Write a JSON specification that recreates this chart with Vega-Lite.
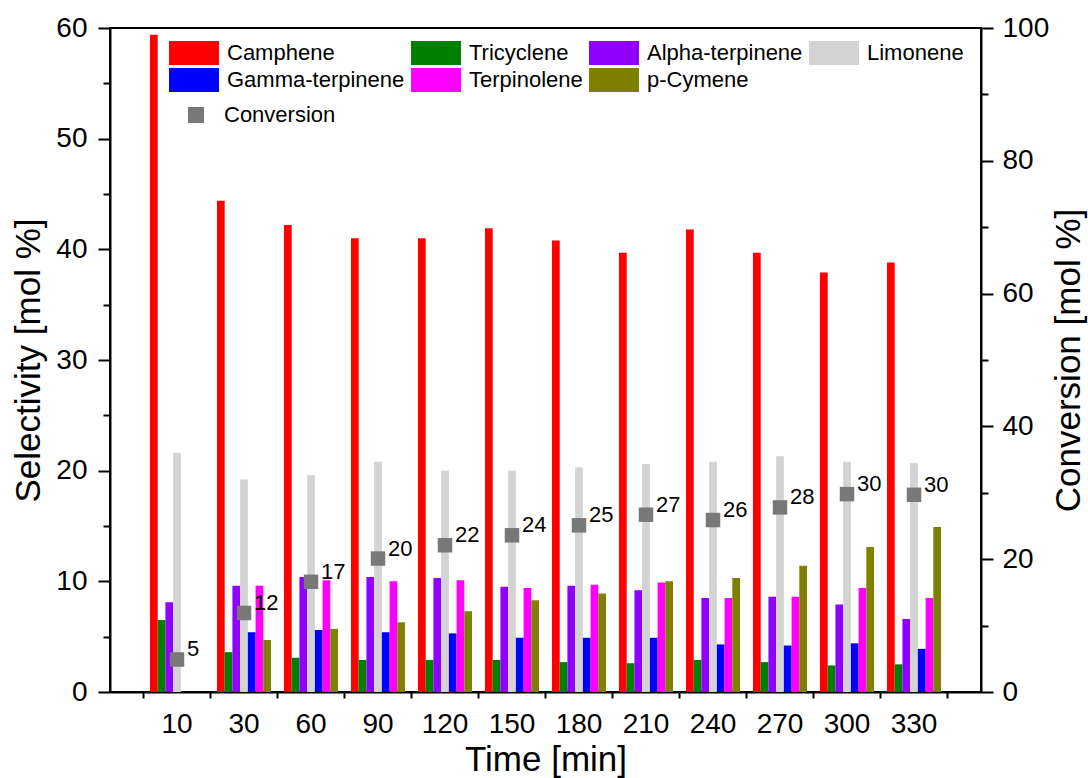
{
  "$schema": "https://vega.github.io/schema/vega-lite/v6.json",
  "autosize": "none",
  "width": 871,
  "height": 664,
  "padding": {"left": 110, "top": 28, "right": 107, "bottom": 86},
  "background": "white",
  "config": {
    "view": {"stroke": "black", "strokeWidth": 2},
    "font": "Liberation Sans",
    "axis": {
      "grid": false,
      "domainColor": "black",
      "domainWidth": 2,
      "tickColor": "black",
      "tickWidth": 2,
      "labelColor": "black",
      "titleColor": "black",
      "labelFont": "Liberation Sans",
      "titleFont": "Liberation Sans",
      "labelFontSize": 28,
      "titleFontSize": 35,
      "titleFontWeight": "normal"
    },
    "legend": {
      "labelFont": "Liberation Sans",
      "labelFontSize": 22,
      "labelColor": "black",
      "labelLimit": 400,
      "padding": 0
    }
  },
  "datasets": {
    "sel": [
      {"time": "10", "compound": "Camphene", "value": 59.4},
      {"time": "10", "compound": "Tricyclene", "value": 6.5},
      {"time": "10", "compound": "Alpha-terpinene", "value": 8.1},
      {"time": "10", "compound": "Limonene", "value": 21.6},
      {"time": "10", "compound": "Gamma-terpinene", "value": 0},
      {"time": "10", "compound": "Terpinolene", "value": 0},
      {"time": "10", "compound": "p-Cymene", "value": 0},
      {"time": "30", "compound": "Camphene", "value": 44.4},
      {"time": "30", "compound": "Tricyclene", "value": 3.6},
      {"time": "30", "compound": "Alpha-terpinene", "value": 9.6},
      {"time": "30", "compound": "Limonene", "value": 19.2},
      {"time": "30", "compound": "Gamma-terpinene", "value": 5.4},
      {"time": "30", "compound": "Terpinolene", "value": 9.6},
      {"time": "30", "compound": "p-Cymene", "value": 4.7},
      {"time": "60", "compound": "Camphene", "value": 42.2},
      {"time": "60", "compound": "Tricyclene", "value": 3.1},
      {"time": "60", "compound": "Alpha-terpinene", "value": 10.4},
      {"time": "60", "compound": "Limonene", "value": 19.6},
      {"time": "60", "compound": "Gamma-terpinene", "value": 5.6},
      {"time": "60", "compound": "Terpinolene", "value": 10.1},
      {"time": "60", "compound": "p-Cymene", "value": 5.7},
      {"time": "90", "compound": "Camphene", "value": 41.0},
      {"time": "90", "compound": "Tricyclene", "value": 2.9},
      {"time": "90", "compound": "Alpha-terpinene", "value": 10.4},
      {"time": "90", "compound": "Limonene", "value": 20.8},
      {"time": "90", "compound": "Gamma-terpinene", "value": 5.4},
      {"time": "90", "compound": "Terpinolene", "value": 10.0},
      {"time": "90", "compound": "p-Cymene", "value": 6.3},
      {"time": "120", "compound": "Camphene", "value": 41.0},
      {"time": "120", "compound": "Tricyclene", "value": 2.9},
      {"time": "120", "compound": "Alpha-terpinene", "value": 10.3},
      {"time": "120", "compound": "Limonene", "value": 20.0},
      {"time": "120", "compound": "Gamma-terpinene", "value": 5.3},
      {"time": "120", "compound": "Terpinolene", "value": 10.1},
      {"time": "120", "compound": "p-Cymene", "value": 7.3},
      {"time": "150", "compound": "Camphene", "value": 41.9},
      {"time": "150", "compound": "Tricyclene", "value": 2.9},
      {"time": "150", "compound": "Alpha-terpinene", "value": 9.5},
      {"time": "150", "compound": "Limonene", "value": 20.0},
      {"time": "150", "compound": "Gamma-terpinene", "value": 4.9},
      {"time": "150", "compound": "Terpinolene", "value": 9.4},
      {"time": "150", "compound": "p-Cymene", "value": 8.3},
      {"time": "180", "compound": "Camphene", "value": 40.8},
      {"time": "180", "compound": "Tricyclene", "value": 2.7},
      {"time": "180", "compound": "Alpha-terpinene", "value": 9.6},
      {"time": "180", "compound": "Limonene", "value": 20.3},
      {"time": "180", "compound": "Gamma-terpinene", "value": 4.9},
      {"time": "180", "compound": "Terpinolene", "value": 9.7},
      {"time": "180", "compound": "p-Cymene", "value": 8.9},
      {"time": "210", "compound": "Camphene", "value": 39.7},
      {"time": "210", "compound": "Tricyclene", "value": 2.6},
      {"time": "210", "compound": "Alpha-terpinene", "value": 9.2},
      {"time": "210", "compound": "Limonene", "value": 20.6},
      {"time": "210", "compound": "Gamma-terpinene", "value": 4.9},
      {"time": "210", "compound": "Terpinolene", "value": 9.9},
      {"time": "210", "compound": "p-Cymene", "value": 10.0},
      {"time": "240", "compound": "Camphene", "value": 41.8},
      {"time": "240", "compound": "Tricyclene", "value": 2.9},
      {"time": "240", "compound": "Alpha-terpinene", "value": 8.5},
      {"time": "240", "compound": "Limonene", "value": 20.8},
      {"time": "240", "compound": "Gamma-terpinene", "value": 4.3},
      {"time": "240", "compound": "Terpinolene", "value": 8.5},
      {"time": "240", "compound": "p-Cymene", "value": 10.3},
      {"time": "270", "compound": "Camphene", "value": 39.7},
      {"time": "270", "compound": "Tricyclene", "value": 2.7},
      {"time": "270", "compound": "Alpha-terpinene", "value": 8.6},
      {"time": "270", "compound": "Limonene", "value": 21.3},
      {"time": "270", "compound": "Gamma-terpinene", "value": 4.2},
      {"time": "270", "compound": "Terpinolene", "value": 8.6},
      {"time": "270", "compound": "p-Cymene", "value": 11.4},
      {"time": "300", "compound": "Camphene", "value": 37.9},
      {"time": "300", "compound": "Tricyclene", "value": 2.4},
      {"time": "300", "compound": "Alpha-terpinene", "value": 7.9},
      {"time": "300", "compound": "Limonene", "value": 20.8},
      {"time": "300", "compound": "Gamma-terpinene", "value": 4.4},
      {"time": "300", "compound": "Terpinolene", "value": 9.4},
      {"time": "300", "compound": "p-Cymene", "value": 13.1},
      {"time": "330", "compound": "Camphene", "value": 38.8},
      {"time": "330", "compound": "Tricyclene", "value": 2.5},
      {"time": "330", "compound": "Alpha-terpinene", "value": 6.6},
      {"time": "330", "compound": "Limonene", "value": 20.7},
      {"time": "330", "compound": "Gamma-terpinene", "value": 3.9},
      {"time": "330", "compound": "Terpinolene", "value": 8.5},
      {"time": "330", "compound": "p-Cymene", "value": 14.9}
    ],
    "conv": [
      {"time": "10", "series": "Conversion", "conv": 4.9},
      {"time": "30", "series": "Conversion", "conv": 11.9},
      {"time": "60", "series": "Conversion", "conv": 16.6},
      {"time": "90", "series": "Conversion", "conv": 20.1},
      {"time": "120", "series": "Conversion", "conv": 22.1},
      {"time": "150", "series": "Conversion", "conv": 23.6},
      {"time": "180", "series": "Conversion", "conv": 25.1},
      {"time": "210", "series": "Conversion", "conv": 26.7},
      {"time": "240", "series": "Conversion", "conv": 25.9},
      {"time": "270", "series": "Conversion", "conv": 27.8},
      {"time": "300", "series": "Conversion", "conv": 29.8},
      {"time": "330", "series": "Conversion", "conv": 29.7}
    ]
  },
  "encoding": {
    "x": {
      "field": "time",
      "type": "nominal",
      "sort": ["10", "30", "60", "90", "120", "150", "180", "210", "240", "270", "300", "330"],
      "scale": {"paddingInner": 0, "paddingOuter": 0.5},
      "axis": {
        "title": "Time [min]",
        "labelAngle": 0,
        "ticks": true,
        "bandPosition": 1,
        "tickExtra": true,
        "tickSize": 6,
        "labelPadding": 12,
        "titlePadding": 4
      }
    }
  },
  "layer": [
    {
      "data": {"name": "sel"},
      "mark": {"type": "bar"},
      "encoding": {
        "xOffset": {
          "field": "compound",
          "type": "nominal",
          "sort": ["Camphene", "Tricyclene", "Alpha-terpinene", "Limonene", "Gamma-terpinene", "Terpinolene", "p-Cymene"],
          "scale": {"paddingInner": 0, "paddingOuter": 0.84}
        },
        "y": {
          "field": "value",
          "type": "quantitative",
          "scale": {"domain": [0, 60], "nice": false},
          "axis": {
            "title": "Selectivity [mol %]",
            "values": [0, 5, 10, 15, 20, 25, 30, 35, 40, 45, 50, 55, 60],
            "labelExpr": "datum.value % 10 === 0 ? datum.label : ''",
            "tickSize": {"condition": {"test": "datum.value % 10 === 0", "value": 12}, "value": 7},
            "labelPadding": 11,
            "titlePadding": 9
          }
        },
        "color": {
          "field": "compound",
          "type": "nominal",
          "sort": ["Camphene", "Tricyclene", "Alpha-terpinene", "Limonene", "Gamma-terpinene", "Terpinolene", "p-Cymene"],
          "scale": {
            "domain": ["Camphene", "Tricyclene", "Alpha-terpinene", "Limonene", "Gamma-terpinene", "Terpinolene", "p-Cymene"],
            "range": ["#FF0000", "#008000", "#8F00FF", "#D3D3D3", "#0000FF", "#FF00FF", "#808000"]
          },
          "legend": {
            "title": null,
            "orient": "none",
            "direction": "horizontal",
            "legendX": 72,
            "legendY": 13,
            "columns": 4,
            "symbolType": "M-2.083,-1H2.083V1H-2.083Z",
            "symbolSize": 576,
            "symbolStrokeWidth": 0,
            "labelOffset": 21,
            "rowPadding": 3,
            "columnPadding": 6
          }
        }
      }
    },
    {
      "data": {"name": "conv"},
      "mark": {"type": "point", "shape": "square", "filled": true, "size": 210, "opacity": 1, "color": "#787878"},
      "encoding": {
        "y": {
          "field": "conv",
          "type": "quantitative",
          "scale": {"domain": [0, 100], "nice": false},
          "axis": {
            "title": "Conversion [mol %]",
            "orient": "right",
            "values": [0, 10, 20, 30, 40, 50, 60, 70, 80, 90, 100],
            "labelExpr": "datum.value % 20 === 0 ? datum.label : ''",
            "tickSize": {"condition": {"test": "datum.value % 20 === 0", "value": 12}, "value": 7},
            "labelPadding": 9,
            "titleAngle": 270,
            "titlePadding": 38
          }
        },
        "shape": {
          "field": "series",
          "type": "nominal",
          "scale": {"domain": ["Conversion"], "range": ["square"]},
          "legend": {
            "title": null,
            "orient": "none",
            "legendX": 75,
            "legendY": 76,
            "symbolSize": 256,
            "symbolFillColor": "#787878",
            "symbolStrokeWidth": 0,
            "labelOffset": 17
          }
        }
      }
    },
    {
      "data": {"name": "conv"},
      "mark": {"type": "text", "align": "left", "baseline": "middle", "dx": 10, "dy": -10, "fontSize": 22, "font": "Liberation Sans", "color": "black"},
      "encoding": {
        "y": {"field": "conv", "type": "quantitative", "scale": {"domain": [0, 100], "nice": false}, "axis": null},
        "text": {"field": "conv", "type": "quantitative", "format": ".0f"}
      }
    }
  ],
  "resolve": {"scale": {"y": "independent", "color": "independent", "shape": "independent"}}
}
